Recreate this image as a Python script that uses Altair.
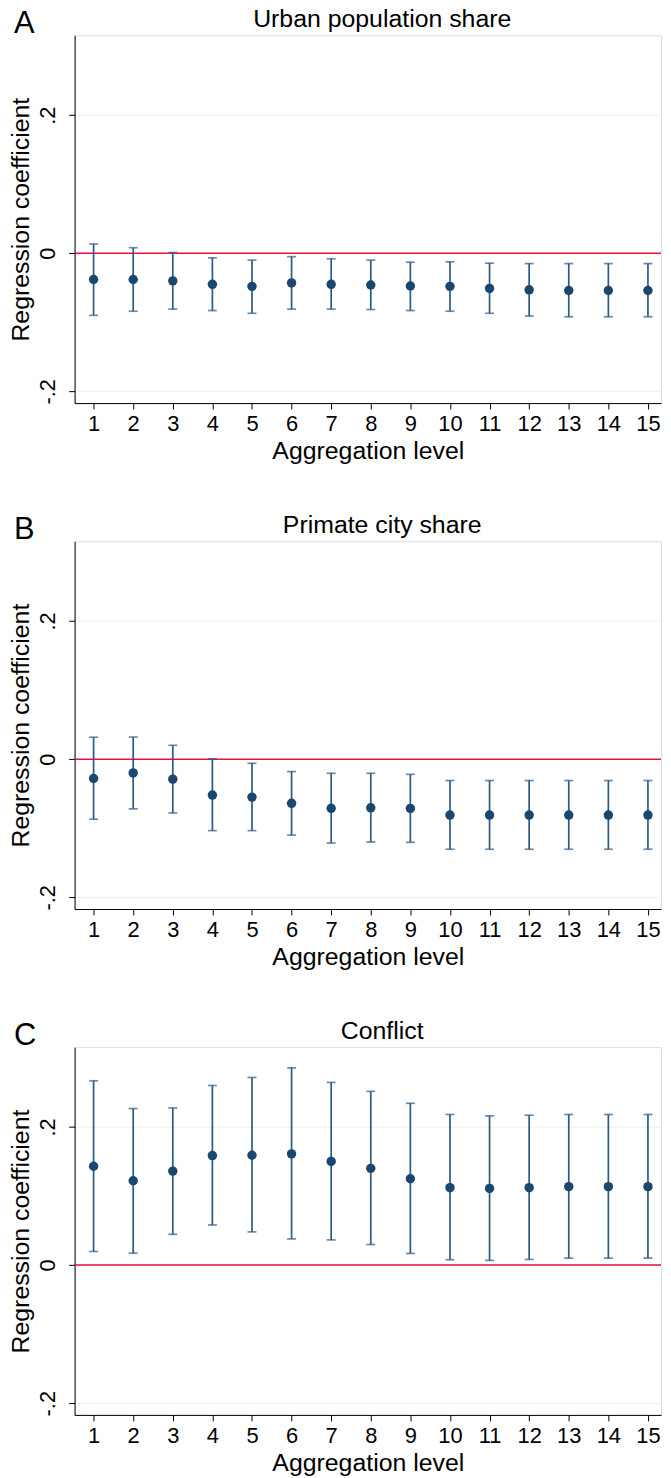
import altair as alt
import pandas as pd

levels = list(range(1, 16))

urban_coef = [-0.038, -0.038, -0.040, -0.045, -0.048, -0.043, -0.045, -0.046, -0.0475, -0.048, -0.051, -0.053, -0.054, -0.054, -0.054]
urban_lo = [-0.090, -0.084, -0.081, -0.083, -0.087, -0.081, -0.081, -0.0815, -0.083, -0.084, -0.087, -0.091, -0.092, -0.092, -0.092]
urban_hi = [0.0134, 0.008, 0.001, -0.0067, -0.010, -0.005, -0.008, -0.010, -0.013, -0.0125, -0.0144, -0.015, -0.015, -0.015, -0.015]

primate_coef = [-0.028, -0.020, -0.029, -0.052, -0.055, -0.064, -0.0712, -0.0705, -0.0714, -0.081, -0.081, -0.081, -0.081, -0.081, -0.081]
primate_lo = [-0.087, -0.072, -0.078, -0.1035, -0.1035, -0.110, -0.1215, -0.120, -0.1205, -0.1305, -0.1305, -0.1305, -0.1305, -0.1305, -0.1305]
primate_hi = [0.0317, 0.032, 0.020, 0.0005, -0.006, -0.018, -0.0205, -0.0205, -0.022, -0.031, -0.031, -0.031, -0.031, -0.031, -0.031]

conflict_coef = [0.143, 0.122, 0.136, 0.1585, 0.159, 0.161, 0.150, 0.140, 0.125, 0.112, 0.111, 0.112, 0.1135, 0.1135, 0.1135]
conflict_lo = [0.0196, 0.0172, 0.0445, 0.058, 0.048, 0.0378, 0.0364, 0.0297, 0.0168, 0.0077, 0.0067, 0.0081, 0.010, 0.010, 0.010]
conflict_hi = [0.2668, 0.2266, 0.2275, 0.260, 0.2716, 0.2855, 0.2644, 0.2515, 0.2342, 0.218, 0.216, 0.217, 0.218, 0.218, 0.218]

panels = [
    ("A", "Urban population share", urban_coef, urban_lo, urban_hi),
    ("B", "Primate city share", primate_coef, primate_lo, primate_hi),
    ("C", "Conflict", conflict_coef, conflict_lo, conflict_hi),
]

FONT = "Liberation Sans"
NAVY = "#1a476f"
BAR = "#2b5a84"
RED = "#e8103f"
GRID = "#e8f0f0"

YDOM = [-0.217, 0.3155]
XDOM = [0.52, 15.33]
W, H = 590, 370


def panel(letter, title, coef, lo, hi):
    df = pd.DataFrame({"level": levels, "coef": coef, "lo": lo, "hi": hi})
    xs = alt.Scale(domain=XDOM, nice=False, zero=False)
    ys = alt.Scale(domain=YDOM, nice=False, zero=False)
    x = alt.X(
        "level:Q", scale=xs,
        axis=alt.Axis(values=levels, format="d", title="Aggregation level", grid=False,
                      tickSize=6, tickColor="black", domainColor="black",
                      labelFontSize=22, labelFont=FONT, labelColor="black", labelPadding=5,
                      titleFontSize=25, titleFont=FONT, titleFontWeight="normal",
                      titleColor="black", titlePadding=4, labelFlush=False),
    )
    y_axis = alt.Axis(
        values=[-0.2, 0, 0.2],
        labelExpr="datum.value < -0.1 ? '-.2' : (datum.value > 0.1 ? '.2' : '0')",
        title="Regression coefficient", grid=True, gridColor=GRID, gridWidth=1,
        tickSize=6, tickColor="black", domainColor="black",
        labelAngle=270, labelAlign="center", labelBaseline="alphabetic",
        labelFontSize=22, labelFont=FONT, labelColor="black", labelPadding=14,
        titleFontSize=25, titleFont=FONT, titleFontWeight="normal", titleColor="black",
        titlePadding=3, labelFlush=False,
    )
    base = alt.Chart(df)
    zero = alt.Chart(pd.DataFrame({"z": [0.0]})).mark_rule(color=RED, strokeWidth=1.5).encode(
        y=alt.Y("z:Q", scale=ys, axis=y_axis)
    )
    bars = base.mark_rule(color=BAR, strokeWidth=1.7).encode(
        x=x, y=alt.Y("lo:Q", scale=ys), y2="hi:Q"
    )
    cap_lo = base.mark_tick(color=BAR, orient="horizontal", size=9, thickness=1.7).encode(
        x=x, y=alt.Y("lo:Q", scale=ys)
    )
    cap_hi = base.mark_tick(color=BAR, orient="horizontal", size=9, thickness=1.7).encode(
        x=x, y=alt.Y("hi:Q", scale=ys)
    )
    pts = base.mark_circle(color=NAVY, size=90, opacity=1).encode(
        x=x, y=alt.Y("coef:Q", scale=ys)
    )
    lab = alt.Chart(pd.DataFrame({"t": [letter]})).mark_text(
        font=FONT, fontSize=31, align="left", baseline="alphabetic", color="black"
    ).encode(text="t:N", x=alt.value(-61), y=alt.value(-2))
    ttl = alt.Chart(pd.DataFrame({"t": [title]})).mark_text(
        font=FONT, fontSize=25, align="center", baseline="alphabetic", color="black"
    ).encode(text="t:N", x=alt.value(309.5), y=alt.value(-8))
    return alt.layer(zero, bars, cap_lo, cap_hi, pts, lab, ttl).properties(width=W, height=H)


chart = alt.vconcat(*[panel(*p) for p in panels], spacing=48).properties(
    padding={"top": -6, "left": 0, "right": 0, "bottom": 0}
).configure_view(strokeWidth=0, stroke="transparent").configure(background="white")

chart.save("out.html", embed_options={"renderer": "svg", "actions": False})
